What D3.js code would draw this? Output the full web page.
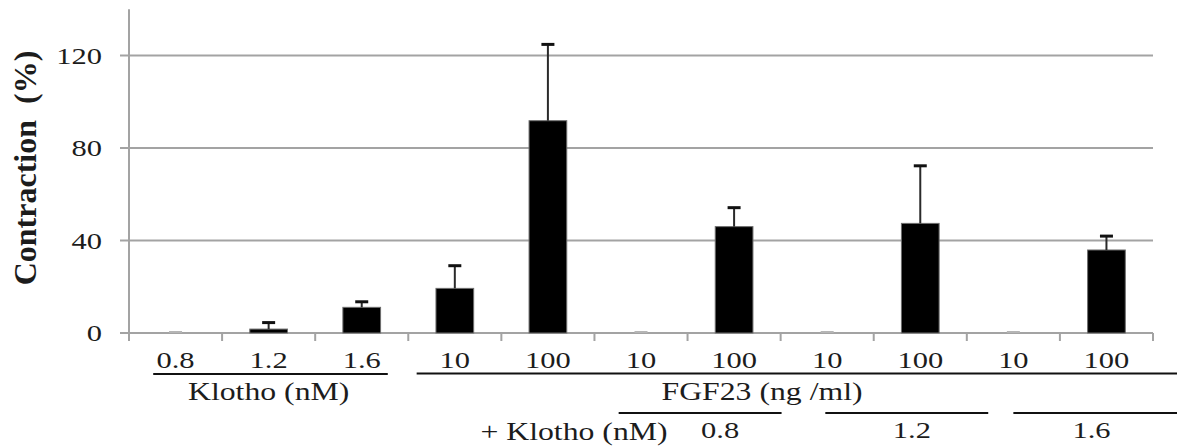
<!DOCTYPE html>
<html>
<head>
<meta charset="utf-8">
<script src="https://cdn.jsdelivr.net/npm/d3@7"></script>
<style>
  html, body { margin: 0; padding: 0; background: #fff; }
  svg { display: block; }
  text { font-family: "Liberation Serif", "Times New Roman", serif; fill: #1c1c1c; }
</style>
</head>
<body>
<svg id="chart" width="1177" height="448"></svg>
<script>
// ---------------- DATA ----------------
const categories = ["0.8", "1.2", "1.6", "10", "100", "10", "100", "10", "100", "10", "100"];
const values     = [0, 1.7, 11.1, 19.3, 91.8, 0, 46.0, 0, 47.4, 0, 35.9];
const errors     = [0, 2.8, 2.4, 9.8, 33.0, 0, 8.2, 0, 24.9, 0, 6.0];
const yTicks     = [0, 40, 80, 120];
const yMax       = 140;
const yTitle     = "Contraction\u00a0\u00a0(%)";
const groupLabels = ["Klotho (nM)", "FGF23 (ng /ml)"];
const comboLabel  = "+ Klotho (nM)";
const comboDoses  = ["0.8", "1.2", "1.6"];

// ---------------- LAYOUT ----------------
const svg = d3.select("#chart");
const X0 = 129, X1 = 1153, Y0 = 333, YTOP = 9.25;
const SX = 1.27; // horizontal glyph stretch of the original picture
const gridColor = "#a3a3a3";

const x = d3.scaleBand().domain(d3.range(categories.length)).range([X0, X1]).padding(0);
const y = d3.scaleLinear().domain([0, yMax]).range([Y0, YTOP]);
const u = k => X0 + k * x.step();           // position in band units
const barW = x.bandwidth() * 0.405;

function stretchedText(g, str, px, py, size, anchor, weight) {
  return g.append("text")
    .attr("transform", `translate(${px},${py}) scale(${SX},1)`)
    .attr("text-anchor", anchor)
    .style("font-size", size + "px")
    .style("font-weight", weight || "normal")
    .text(str);
}

// gridlines + y ticks
svg.append("g").selectAll("line").data(yTicks).join("line")
  .attr("x1", X0 - 9).attr("x2", X1)
  .attr("y1", d => y(d)).attr("y2", d => y(d))
  .attr("stroke", gridColor).attr("stroke-width", 2);

// y axis line
svg.append("line")
  .attr("x1", X0).attr("x2", X0).attr("y1", y(yMax)).attr("y2", Y0 + 8)
  .attr("stroke", gridColor).attr("stroke-width", 2);

// x ticks at category boundaries
svg.append("g").selectAll("line").data(d3.range(categories.length + 1)).join("line")
  .attr("x1", d => u(d)).attr("x2", d => u(d))
  .attr("y1", Y0).attr("y2", Y0 + 8)
  .attr("stroke", gridColor).attr("stroke-width", 2);

// y tick labels
const yl = svg.append("g");
yTicks.forEach(t => stretchedText(yl, String(t), 102, y(t) + 8, 24, "end"));

// y title
svg.append("text")
  .attr("transform", `translate(36,168) rotate(-90)`)
  .attr("text-anchor", "middle")
  .style("font-size", "32px").style("font-weight", "bold")
  .text(yTitle);

// bars
svg.append("g").selectAll("rect").data(values).join("rect")
  .attr("x", (d, i) => x(i) + x.bandwidth() / 2 - barW / 2)
  .attr("width", barW)
  .attr("y", d => y(d))
  .attr("height", d => Y0 - y(d))
  .attr("fill", "#000").attr("stroke", "#6e6e6e").attr("stroke-width", 1);

// error bars
const eb = svg.append("g");
values.forEach((v, i) => {
  const cx = x(i) + x.bandwidth() / 2;
  const top = y(v + errors[i]);
  if (errors[i] > 0) {
    eb.append("line").attr("x1", cx).attr("x2", cx).attr("y1", y(v)).attr("y2", top)
      .attr("stroke", "#2a2a2a").attr("stroke-width", 2);
  }
  eb.append("line").attr("x1", cx - 6.5).attr("x2", cx + 6.5).attr("y1", top - (v === 0 ? 1 : 0)).attr("y2", top - (v === 0 ? 1 : 0))
    .attr("stroke", v === 0 ? "#b5b5b5" : "#111").attr("stroke-width", v === 0 ? 2 : 3);
});

// x tick labels
const xl = svg.append("g");
categories.forEach((c, i) => stretchedText(xl, c, x(i) + x.bandwidth() / 2, 368, 24, "middle"));

// group annotations
const ann = svg.append("g");
function rule(a, b, yy) {
  ann.append("line").attr("x1", a).attr("x2", b).attr("y1", yy).attr("y2", yy)
    .attr("stroke", "#111").attr("stroke-width", 2);
}
rule(u(0.26), u(2.78), 374);
rule(u(3.09), 1177, 373.5);
stretchedText(ann, groupLabels[0], u(1.5), 400, 25, "middle");
stretchedText(ann, groupLabels[1], u(6.8), 400, 25, "middle");

rule(u(5.26), u(7.01), 413);
rule(u(7.48), u(9.23), 413);
rule(u(9.5), 1177, 413);
stretchedText(ann, comboLabel, u(4.78), 440, 25, "middle");
[6.35, 8.41, 10.34].forEach((k, i) => stretchedText(ann, comboDoses[i], u(k), 438, 24, "middle"));
</script>
</body>
</html>
